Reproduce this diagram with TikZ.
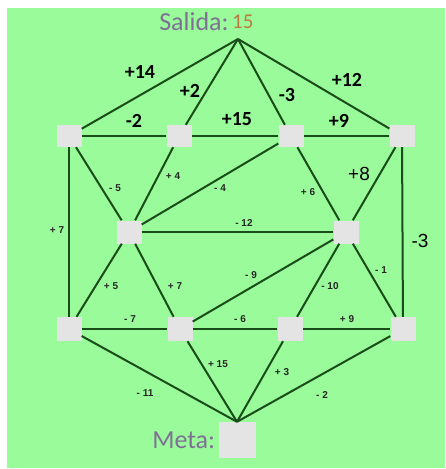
\documentclass[tikz,border=0pt]{standalone}
\usepackage{fontspec}
\newfontfamily\calibri{Carlito}
\newfontfamily\arial{Liberation Sans}
\usetikzlibrary{positioning}
\definecolor{bggreen}{RGB}{153,251,153}
\definecolor{edgegreen}{RGB}{26,76,26}
\definecolor{boxgray}{RGB}{228,228,228}
\definecolor{titlegray}{RGB}{128,112,150}
\definecolor{numorange}{RGB}{190,120,64}

\begin{document}
\begin{tikzpicture}[x=1pt, y=-1pt,
  sq/.style={rectangle, fill=boxgray, inner sep=0pt,
             minimum width=25pt, minimum height=23pt},
  edge/.style={draw=edgegreen, line width=2pt},
  small/.style={font=\arial\bfseries\fontsize{10}{10}\selectfont,
                text=black!85, inner sep=0pt},
  big/.style={font=\calibri\bfseries\fontsize{20}{20}\selectfont, inner sep=0pt},
  plainlbl/.style={font=\arial\fontsize{19}{19}\selectfont, inner sep=0pt}]

% Background
\useasboundingbox (0,0) rectangle (445,469);
\fill[white] (0,0) rectangle (445,469);
\fill[bggreen] (7,8) rectangle (445,468);

% Start and goal
\coordinate (apex) at (238,39);
\node[font=\calibri\fontsize{26}{26}\selectfont, text=titlegray, inner sep=0pt]
      (salida) at (194,22) {Salida:};
\node[font=\calibri\fontsize{21}{21}\selectfont, text=numorange, inner sep=0pt,
      right=3pt of salida] (start-val) {15};
\node[sq, minimum width=37pt, minimum height=36pt] (meta) at (237,440) {};
\node[font=\calibri\fontsize{26}{26}\selectfont, text=titlegray, inner sep=0pt,
      left=3pt of meta] (meta-lbl) {Meta:};

% Top row
\node[sq, minimum height=22pt] (a1) at (69,136) {};
\node[sq, minimum height=22pt] (a2) at (179,136) {};
\node[sq, minimum height=22pt] (a3) at (291,136) {};
\node[sq, minimum height=22pt] (a4) at (402,136) {};

% Middle row
\node[sq] (b1) at (129,232) {};
\node[sq] (b2) at (346,232) {};

% Bottom row
\node[sq, minimum height=24pt] (c1) at (69,329) {};
\node[sq, minimum height=24pt] (c2) at (180,329) {};
\node[sq, minimum height=24pt] (c3) at (290,329) {};
\node[sq, minimum height=24pt] (c4) at (403,329) {};

% Edges
\foreach \t in {a1,a2,a3,a4} \draw[edge] (apex) -- (\t);
\draw[edge] (a1) -- (a2);
\draw[edge] (a2) -- (a3);
\draw[edge] (a3) -- (a4);
\draw[edge] (a1) -- (c1);
\draw[edge] (a4) -- (c4);
\draw[edge] (a1) -- (b1);
\draw[edge] (a2) -- (b1);
\draw[edge] (a3) -- (b1);
\draw[edge] (a3) -- (b2);
\draw[edge] (a4) -- (b2);
\draw[edge] (b1) -- (b2);
\draw[edge] (b1) -- (c1);
\draw[edge] (b1) -- (c2);
\draw[edge] (b2) -- (c2);
\draw[edge] (b2) -- (c3);
\draw[edge] (b2) -- (c4);
\draw[edge] (c1) -- (c2);
\draw[edge] (c2) -- (c3);
\draw[edge] (c3) -- (c4);
\foreach \s in {c1,c2,c3,c4} \draw[edge] (\s) -- (meta.north);

% Weights, top part
\node[big] (w-s1) at (140,72) {+14};
\node[big] (w-s2) at (190,91) {+2};
\node[big] (w-s3) at (287,95) {-3};
\node[big] (w-s4) at (347,80) {+12};
\node[big] (w-a12) at (134,121) {-2};
\node[big] (w-a23) at (237,119) {+15};
\node[big] (w-a34) at (339,121) {+9};
\node[plainlbl] (w-a4b2) at (359,174) {+8};
\node[plainlbl] (w-a4c4) at (420,241) {-3};

% Weights, small
\node[small] (w-a1b1) at (115,188) {- 5};
\node[small] (w-a2b1) at (173,176) {+ 4};
\node[small] (w-a3b1) at (220,188) {- 4};
\node[small] (w-a3b2) at (308,192) {+ 6};
\node[small] (w-a1c1) at (57,230) {+ 7};
\node[small] (w-b1b2) at (244,223) {- 12};
\node[small] (w-b2c2) at (251,275) {- 9};
\node[small] (w-b2c3) at (330,286) {- 10};
\node[small] (w-b2c4) at (381,270) {- 1};
\node[small] (w-b1c1) at (111,286) {+ 5};
\node[small] (w-b1c2) at (175,286) {+ 7};
\node[small] (w-c12) at (130,319) {- 7};
\node[small] (w-c23) at (240,319) {- 6};
\node[small] (w-c34) at (347,319) {+ 9};
\node[small] (w-c2m) at (218,364) {+ 15};
\node[small] (w-c3m) at (282,372) {+ 3};
\node[small] (w-c1m) at (145,393) {- 11};
\node[small] (w-c4m) at (322,395) {- 2};

\end{tikzpicture}
\end{document}
